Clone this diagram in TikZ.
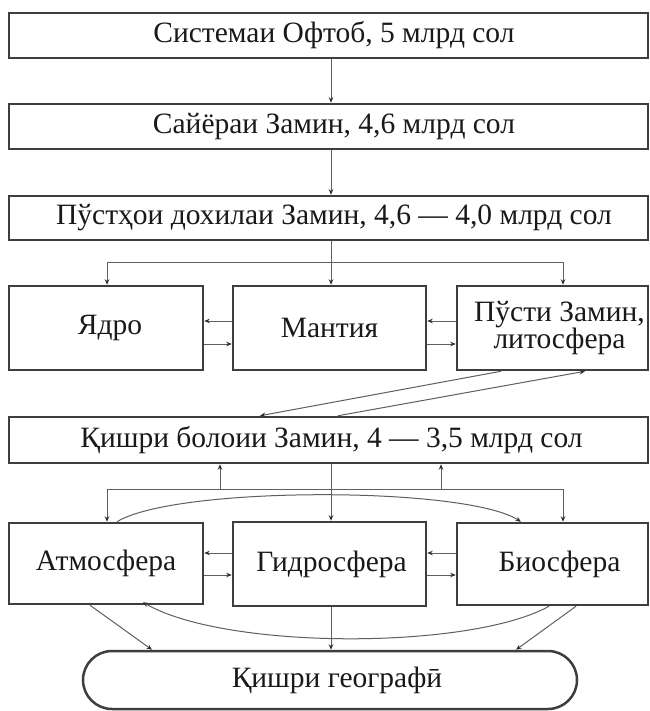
\documentclass[tikz,border=0pt]{standalone}
\usepackage{fontspec}
\setmainfont{Liberation Serif}
\usetikzlibrary{arrows.meta}
\definecolor{boxc}{RGB}{62,62,62}
\definecolor{linec}{RGB}{95,95,95}
\definecolor{tipc}{RGB}{45,45,45}
\definecolor{txtc}{RGB}{25,25,25}
\tikzset{
  box/.style={draw=boxc, line width=2.5pt, fill=white, minimum height=45pt, inner sep=0pt, text=txtc, font=\fontsize{29.5}{25}\selectfont, align=center},
  tsh/.style={execute at begin node={\hspace*{#1}}},
  arr/.style={draw=linec, line width=1pt, -{Stealth[length=5.5pt,width=4.5pt,color=tipc]}},
  ln/.style={draw=linec, line width=1pt},
}
\begin{document}
\begin{tikzpicture}[x=1pt,y=-1pt]
\useasboundingbox (0,0) rectangle (649,711);
\fill[white] (0,0) rectangle (649,711);
% boxes
\node[box, minimum width=639pt, tsh=11pt] (b1) at (328.5,35.5) {Системаи Офтоб, 5 млрд сол};
\node[box, minimum width=639pt, tsh=11pt] (b2) at (328.5,126.5) {Сайёраи Замин, 4,6 млрд сол};
\node[box, minimum width=639pt, minimum height=44pt, tsh=11pt] (b3) at (328.5,218) {Пўстҳои дохилаи Замин, 4,6 — 4,0 млрд сол};
\node[box, minimum width=194pt, minimum height=84pt, tsh=8pt] (yadro) at (106,328) {Ядро};
\node[box, minimum width=193pt, minimum height=84pt] (mantia) at (329.5,328) {Мантия};
\node[box, minimum width=191pt, minimum height=84pt] (pusti) at (552.5,328) {\hspace*{14pt}Пўсти Замин,\\\hspace*{14pt}литосфера};
\node[box, minimum width=639pt, minimum height=46pt, tsh=6pt] (b4) at (328.5,440) {Қишри болоии Замин, 4 — 3,5 млрд сол};
\node[box, minimum width=194pt, minimum height=81pt] (atmo) at (106,563.5) {Атмосфера};
\node[box, minimum width=193pt, minimum height=84pt, tsh=4pt] (gidro) at (329.5,564) {Гидросфера};
\node[box, minimum width=191pt, minimum height=82pt, tsh=14pt] (bio) at (552.5,564) {Биосфера};
\node[box, minimum width=494pt, minimum height=58pt, rounded corners=29pt, tsh=14pt] (geo) at (330,680) {Қишри географӣ};
% helper coordinates
\coordinate (cx) at (331,0);
\coordinate (k1) at (107,262);
\coordinate (k2) at (563,262);
\coordinate (h1) at (0,321);
\coordinate (h2) at (0,344);
\coordinate (m1) at (107,489);
\coordinate (m2) at (563,489);
\coordinate (u1) at (220,489);
\coordinate (u2) at (441,489);
\coordinate (g1) at (0,553);
\coordinate (g2) at (0,575);
% top chain
\draw[arr] (b1.south -| cx) -- (b2.north -| cx);
\draw[arr] (b2.south -| cx) -- (b3.north -| cx);
\draw[arr] (b3.south -| cx) -- (mantia.north -| cx);
\draw[ln] (k1) -- (k2);
\draw[arr] (k1) -- (yadro.north -| k1);
\draw[arr] (k2) -- (pusti.north -| k2);
% row 2 horizontal
\draw[arr] (h1 -| mantia.west) -- (h1 -| yadro.east);
\draw[arr] (h2 -| yadro.east) -- (h2 -| mantia.west);
\draw[arr] (h1 -| pusti.west) -- (h1 -| mantia.east);
\draw[arr] (h2 -| mantia.east) -- (h2 -| pusti.west);
% diagonals
\coordinate (d1) at (501,0);
\coordinate (d2) at (260,0);
\coordinate (d3) at (338,0);
\coordinate (d4) at (585,0);
\draw[arr] (pusti.south -| d1) -- (b4.north -| d2);
\draw[arr] (b4.north -| d3) -- (pusti.south -| d4);
% row 4 branches
\draw[arr] (b4.south -| cx) -- (gidro.north -| cx);
\draw[ln] (m1) -- (m2);
\draw[arr] (m1) -- (atmo.north -| m1);
\draw[arr] (m2) -- (bio.north -| m2);
\draw[arr] (u1) -- (b4.south -| u1);
\draw[arr] (u2) -- (b4.south -| u2);
% row 4 horizontal
\draw[arr] (g1 -| gidro.west) -- (g1 -| atmo.east);
\draw[arr] (g2 -| atmo.east) -- (g2 -| gidro.west);
\draw[arr] (g1 -| bio.west) -- (g1 -| gidro.east);
\draw[arr] (g2 -| gidro.east) -- (g2 -| bio.west);
% curves
\coordinate (c1) at (117,0);
\coordinate (c2) at (521,0);
\coordinate (c3) at (549,0);
\coordinate (c4) at (143,0);
\draw[arr] (atmo.north -| c1) .. controls (175,486) and (465,486) .. (bio.north -| c2);
\draw[arr] (bio.south -| c3) .. controls (470,650) and (225,650) .. ([yshift=3pt]atmo.south -| c4);
% to geo
\coordinate (e1) at (90,0);
\coordinate (e2) at (152,0);
\coordinate (e3) at (576,0);
\coordinate (e4) at (516,0);
\draw[arr] (atmo.south -| e1) -- (geo.north -| e2);
\draw[arr] (gidro.south -| cx) -- (geo.north -| cx);
\draw[arr] (bio.south -| e3) -- (geo.north -| e4);
\end{tikzpicture}
\end{document}
